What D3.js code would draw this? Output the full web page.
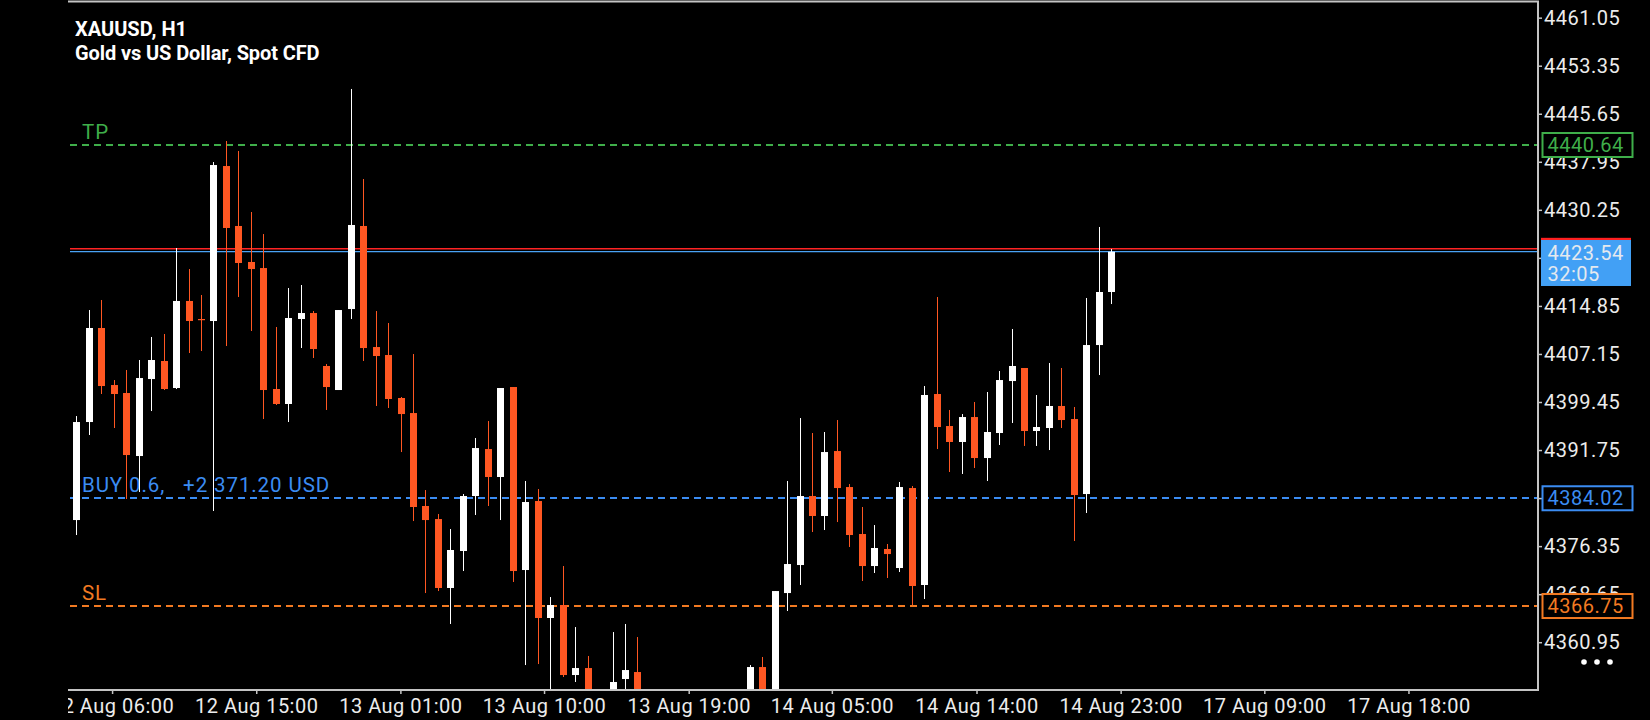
<!DOCTYPE html>
<html><head><meta charset="utf-8">
<script src="https://cdn.jsdelivr.net/npm/d3@7"></script>
<style>
html,body{margin:0;padding:0;background:#000;overflow:hidden}
svg{display:block}
text{font-family:Roboto,"Noto Sans",sans-serif}
</style></head><body>
<svg id="c" width="1650" height="720"></svg>
<script>
// ---------- data ----------
const symbolTitle = "XAUUSD, H1";
const symbolDescription = "Gold vs US Dollar, Spot CFD";

// hourly candles, one per bar slot (null = bar entirely below the visible price range)
const opens = [4380.53,4396.24,4411.31,4402.17,4400.89,4390.79,4403.13,4406.02,4401.69,4415.64,
 4412.75,4412.43,4437.27,4427.66,4421.89,4420.92,4401.53,4399.13,4412.75,4413.71,
 4405.22,4401.37,4414.35,4427.66,4408.26,4406.98,4400.09,4397.68,4382.78,4380.69,
 4369.64,4375.57,4384.38,4391.91,4387.43,4401.85,4372.52,4383.58,4364.83,4366.91,
 4355.69,4356.81,null,4351.00,4355.05,4356.17,null,null,null,null,
 null,null,null,null,4351.00,4356.97,4351.00,4368.83,4373.32,4384.38,
 4381.18,4391.59,4385.82,4378.29,4373.16,4375.89,4372.84,4385.66,4370.12,4400.73,
 4395.60,4393.04,4397.04,4390.47,4394.48,4402.81,4404.90,4394.80,4395.28,4398.81,
 4396.72,4384.70,4408.58,4417.08];
const highs = [4397.20,4414.19,4415.80,4402.97,4404.58,4406.18,4409.87,4410.35,4424.13,4420.76,
 4416.60,4437.91,4441.28,4439.68,4429.90,4426.37,4411.47,4417.72,4418.20,4414.03,
 4405.54,4414.19,4449.62,4435.19,4414.03,4412.11,4400.25,4407.14,4385.34,4381.50,
 4379.09,4384.70,4393.68,4396.40,4401.69,4401.85,4386.79,4385.50,4368.19,4373.16,
 4363.38,4358.74,null,4362.58,4363.87,4361.78,null,null,null,null,
 null,null,null,null,4357.29,4358.58,4369.15,4386.79,4396.88,4394.48,
 4394.64,4396.56,4386.30,4382.62,4379.73,4376.69,4386.63,4385.98,4402.01,4416.28,
 4398.17,4397.52,4399.45,4401.05,4404.42,4411.15,4404.90,4400.57,4405.70,4404.90,
 4398.65,4416.12,4427.50,4423.97];
const lows = [4378.13,4394.16,4400.73,4395.28,4383.90,4385.02,4398.00,4401.37,4401.53,4407.30,
 4407.62,4381.98,4408.42,4416.28,4410.83,4396.72,4398.97,4396.24,4408.10,4406.50,
 4398.17,4401.37,4412.75,4406.02,4398.81,4398.49,4391.43,4380.37,4368.83,4369.15,
 4363.87,4372.36,4381.34,4382.78,4380.53,4370.60,4357.29,4357.45,4350.00,4355.37,
 4354.57,4350.00,null,4350.00,4350.00,4350.00,null,null,null,null,
 null,null,null,null,4350.00,4350.00,4350.00,4365.95,4370.12,4378.61,
 4378.93,4380.21,4376.21,4370.76,4372.04,4371.24,4372.20,4366.91,4367.87,4391.91,
 4388.23,4387.91,4388.87,4386.79,4392.56,4396.08,4392.40,4392.40,4391.75,4395.28,
 4377.17,4381.66,4403.77,4415.15];
const closes = [4396.24,4411.31,4402.01,4400.73,4390.95,4403.29,4406.18,4401.53,4415.64,4412.43,
 4412.59,4437.43,4427.34,4421.73,4420.76,4401.37,4399.13,4412.91,4413.71,4407.94,
 4401.85,4414.19,4427.82,4408.10,4406.82,4399.93,4397.52,4382.62,4380.53,4369.64,
 4375.73,4384.38,4392.07,4387.43,4401.69,4372.36,4383.42,4364.83,4366.91,4355.69,
 4356.81,4351.00,null,4354.57,4356.49,4351.00,null,null,null,null,
 null,null,null,null,4356.97,4351.00,4369.15,4373.48,4384.38,4381.18,
 4391.43,4385.66,4378.13,4373.16,4376.05,4375.08,4385.82,4369.96,4400.57,4395.44,
 4393.04,4397.04,4390.47,4394.64,4402.97,4405.22,4394.80,4395.44,4398.81,4396.56,
 4384.54,4408.58,4417.08,4423.54];

// price axis (labels under the bid and BUY boxes are fully covered in the reference)
const yTickValues = [4360.95,4368.65,4376.35,4384.05,4391.75,4399.45,4407.15,4414.85,4422.55,4430.25,4437.95,4445.65,4453.35,4461.05];
const yTicksHidden = [4384.05,4422.55];
// time axis (positions in bar slots) and labels
const xTickSlots = [2.87,14.43,25.99,37.51,49.11,60.59,72.19,83.75,95.27,106.83];
const xTickLabels = ["12 Aug 06:00","12 Aug 15:00","13 Aug 01:00","13 Aug 10:00","13 Aug 19:00","14 Aug 05:00","14 Aug 14:00","14 Aug 23:00","17 Aug 09:00","17 Aug 18:00"];

// trade levels
const levelNames = ["TP","BUY 0.6,   +2 371.20 USD","SL"];
const levelPrices = [4440.64,4384.02,4366.75];
const levelColors = ["#3fae4a","#3b8cf2","#f27a22"];

const bidPrice = 4423.54;
const askPrice = 4424.00;
const barCountdown = "32:05";

// ---------- drawing ----------
const W = 1650, H = 720;
const L = 68, R = 1538, T = 2, B = 690;
const svg = d3.select("#c");
svg.append("rect").attr("width", W).attr("height", H).attr("fill", "#000");

const x = d3.scaleLinear().domain([0, 83]).range([76.3, 1111.3]);
const y = d3.scaleLinear().domain([4353.29, 4463.56]).range([B, T]);

const defs = svg.append("defs");
defs.append("clipPath").attr("id", "plotClip").append("rect")
  .attr("x", L).attr("y", T).attr("width", R - L).attr("height", B - T);
defs.append("clipPath").attr("id", "xClipLocal").append("rect")
  .attr("x", L).attr("y", 0).attr("width", W - L).attr("height", H - B);

const plotG = svg.append("g").attr("clip-path", "url(#plotClip)");

// title
svg.append("text").attr("x", 75).attr("y", 36).attr("fill", "#fff")
  .attr("font-size", 20).attr("font-weight", 700).text(symbolTitle);
svg.append("text").attr("x", 75).attr("y", 59.5).attr("fill", "#fff")
  .attr("font-size", 20).attr("font-weight", 700).attr("letter-spacing", -0.1).text(symbolDescription);

// level lines + labels
levelPrices.forEach((p, i) => {
  const yy = Math.round(y(p));
  plotG.append("line").attr("x1", 70).attr("x2", R).attr("y1", yy).attr("y2", yy)
    .attr("stroke", levelColors[i]).attr("stroke-width", 2).attr("stroke-dasharray", "7,5");
  plotG.append("text").attr("x", 82).attr("y", yy - 6).attr("fill", levelColors[i])
    .attr("font-size", 20.5).attr("letter-spacing", 0.9).style("white-space", "pre")
    .text(levelNames[i]);
});

// ask / bid lines
plotG.append("line").attr("x1", 70).attr("x2", R).attr("y1", y(askPrice)).attr("y2", y(askPrice))
  .attr("stroke", "#ff2424").attr("stroke-width", 1.4);
plotG.append("line").attr("x1", 70).attr("x2", R).attr("y1", y(bidPrice)).attr("y2", y(bidPrice))
  .attr("stroke", "#4aa3f5").attr("stroke-width", 1.2);

// candles
const bull = "#ffffff", bear = "#ff5722";
const bars = opens.map((o, i) => ({i, o, h: highs[i], l: lows[i], c: closes[i]})).filter(d => d.o != null);
const cg = plotG.append("g");
bars.forEach(d => {
  const cx = Math.round(x(d.i));
  const col = d.c >= d.o ? bull : bear;
  cg.append("line").attr("x1", cx + 0.5).attr("x2", cx + 0.5)
    .attr("y1", y(d.h)).attr("y2", y(d.l)).attr("stroke", col).attr("stroke-width", 1);
  const top = y(Math.max(d.o, d.c)), bot = y(Math.min(d.o, d.c));
  cg.append("rect").attr("x", cx - 3).attr("width", 7)
    .attr("y", top).attr("height", Math.max(1.2, bot - top)).attr("fill", col);
});

// right price axis
const fmt2 = d3.format(".2f");
const yAxis = d3.axisRight(y).tickValues(yTickValues)
  .tickFormat(d => yTicksHidden.includes(d) ? "" : fmt2(d))
  .tickSize(4).tickPadding(2);
const yg = svg.append("g").attr("transform", `translate(${R},0)`).call(yAxis);
yg.select(".domain").remove();
yg.selectAll(".tick line").attr("stroke", "#c4c4c4").attr("stroke-width", 1.5);
yg.selectAll(".tick text").attr("fill", "#ececec").attr("font-size", 20)
  .attr("font-family", "Roboto").attr("letter-spacing", 0.5);

// level boxes on the price axis
levelPrices.forEach((p, i) => {
  const yy = y(p);
  svg.append("rect").attr("x", 1542.5).attr("y", yy - 12).attr("width", 90).attr("height", 24)
    .attr("fill", "#000").attr("stroke", levelColors[i]).attr("stroke-width", 2);
  svg.append("text").attr("x", 1547.5).attr("y", yy).attr("dy", "0.36em")
    .attr("fill", levelColors[i]).attr("font-size", 20).attr("letter-spacing", 0.5)
    .text(fmt2(p));
});

// ask (red) and bid (blue) labels
svg.append("rect").attr("x", 1541).attr("y", y(askPrice) - 11).attr("width", 90).attr("height", 22)
  .attr("fill", "#ff2020");
const bidTop = y(bidPrice) - 11.7;
svg.append("rect").attr("x", 1541).attr("y", bidTop).attr("width", 90).attr("height", 46)
  .attr("fill", "#42a0f5");
svg.append("text").attr("x", 1547.5).attr("y", bidTop + 12.5).attr("dy", "0.36em")
  .attr("fill", "#e4e9ef").attr("font-size", 20).attr("letter-spacing", 0.5)
  .text(fmt2(bidPrice));
svg.append("text").attr("x", 1547.5).attr("y", bidTop + 34).attr("dy", "0.36em")
  .attr("fill", "#e4e9ef").attr("font-size", 20).attr("letter-spacing", 0.5)
  .text(barCountdown);

// bottom time axis
const xAxis = d3.axisBottom(x).tickValues(xTickSlots).tickFormat((d, i) => xTickLabels[i])
  .tickSize(4).tickPadding(5);
const xg = svg.append("g").attr("transform", `translate(0,${B})`).attr("clip-path", "url(#xClipLocal)");
xg.call(xAxis);
xg.select(".domain").remove();
xg.selectAll(".tick line").attr("stroke", "#c4c4c4").attr("stroke-width", 1.5);
xg.selectAll(".tick text").attr("fill", "#ececec").attr("font-size", 20)
  .attr("font-family", "Roboto").attr("letter-spacing", 0.5);

// frame
svg.append("path").attr("d", `M${L},1.5H${R}V${B}H${L}`).attr("fill", "none")
  .attr("stroke", "#c4c4c4").attr("stroke-width", 2);

// menu dots
[1584, 1597, 1610].forEach(cx => {
  svg.append("circle").attr("cx", cx).attr("cy", 662).attr("r", 2.8).attr("fill", "#fff");
});
</script>
</body></html>
